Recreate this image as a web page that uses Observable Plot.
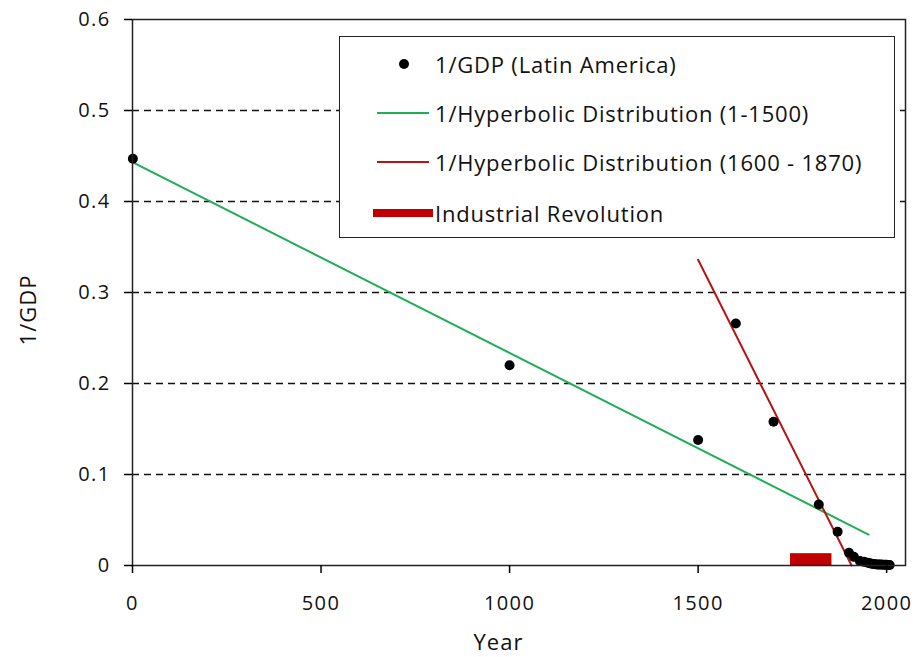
<!DOCTYPE html>
<html>
<head>
<meta charset="utf-8">
<script src="https://cdn.jsdelivr.net/npm/d3@7"></script>
<script src="https://cdn.jsdelivr.net/npm/@observablehq/plot@0.6"></script>
<style>
  html, body { margin: 0; padding: 0; background: #fff; }
  #wrap { position: relative; width: 916px; height: 657px; }
  #legend {
    position: absolute; left: 339px; top: 36px; width: 554px; height: 200px;
    border: 1.5px solid #222; background: #fff;
    font-family: "Open Sans", sans-serif; font-size: 22px; letter-spacing: 0.8px; color: #111;
  }
  .item { position: absolute; left: 0; width: 100%; height: 30px; }
  .item svg { position: absolute; left: 0; top: 0; }
  .item span { position: absolute; left: 95px; top: 0; line-height: 30px; white-space: nowrap; }
</style>
</head>
<body>
<div id="wrap"></div>
<script>
// ---- data ----
const years = [1, 1000, 1500, 1600, 1700, 1820, 1870, 1900, 1913, 1929, 1940, 1950, 1955, 1960, 1965, 1970, 1975, 1980, 1985, 1990, 1995, 2000, 2005, 2008];
const invGDP = [0.447, 0.220, 0.138, 0.266, 0.158, 0.067, 0.037, 0.014, 0.0095, 0.005, 0.004, 0.003, 0.0025, 0.002, 0.0017, 0.0014, 0.0012, 0.001, 0.001, 0.0009, 0.0008, 0.0007, 0.0006, 0.0005];

const greenYears = [1, 1952];
const greenValues = [0.443, 0.034];

const redYears = [1500, 1907];
const redValues = [0.336, 0.0];

const industrialStart = 1745;
const industrialEnd = 1855;
const industrialHeight = 0.013;

const yTicks = [0, 0.1, 0.2, 0.3, 0.4, 0.5, 0.6];
const gridTicks = [0.1, 0.2, 0.3, 0.4, 0.5];
const xTicks = [0, 500, 1000, 1500, 2000];

const xLabel = "Year";
const yLabel = "1/GDP";
const legendLabels = [
  "1/GDP (Latin America)",
  "1/Hyperbolic Distribution (1-1500)",
  "1/Hyperbolic Distribution (1600 - 1870)",
  "Industrial Revolution"
];

const GREEN = "#1fae55";
const RED = "#b81414";
const BAR = "#c00000";

// ---- build ----
const points = years.map((y, i) => ({year: y, v: invGDP[i]}));
const green = greenYears.map((y, i) => ({year: y, v: greenValues[i]}));
const red = redYears.map((y, i) => ({year: y, v: redValues[i]}));

const W = 916, H = 657, ML = 132, MR = 11, MT = 19, MB = 92;

const chart = Plot.plot({
  width: W,
  height: H,
  marginLeft: ML,
  marginRight: MR,
  marginTop: MT,
  marginBottom: MB,
  x: {domain: [0, 2050]},
  y: {domain: [0, 0.6]},
  marks: [
    Plot.ruleY(gridTicks, {stroke: "#111", strokeWidth: 1.3, strokeDasharray: "7,5"}),
    Plot.rectY([{x1: industrialStart, x2: industrialEnd, y: industrialHeight}], {x1: "x1", x2: "x2", y1: 0, y2: "y", fill: BAR}),
    Plot.line(green, {x: "year", y: "v", stroke: GREEN, strokeWidth: 2}),
    Plot.line(red, {x: "year", y: "v", stroke: RED, strokeWidth: 2}),
    Plot.dot(points, {x: "year", y: "v", r: 5, fill: "#000", stroke: "none"}),
    Plot.frame({stroke: "#222", strokeWidth: 1.5}),
    Plot.axisY(yTicks, {
      tickSize: 8, tickPadding: 14, strokeWidth: 1.5,
      tickFormat: d => d === 0 ? "0" : d.toFixed(1),
      fill: "#111", label: null
    }),
    Plot.axisX(xTicks, {
      tickSize: 8, tickPadding: 22, strokeWidth: 1.5,
      tickFormat: d => String(d),
      fill: "#111", label: null
    })
  ]
});

// force tick-label typography with inline styles
const svg = d3.select(chart);
svg.selectAll("text")
  .style("font-size", "20px")
  .style("font-family", "'Open Sans', sans-serif")
  .style("letter-spacing", "1.4px");

// axis titles
const cx = (ML + (W - MR)) / 2;
svg.append("text")
  .attr("x", cx - 20).attr("y", H - MB + 76)
  .attr("text-anchor", "middle").attr("dominant-baseline", "central")
  .attr("fill", "#111")
  .style("font-size", "22px").style("font-family", "'Open Sans', sans-serif").style("letter-spacing", "1px")
  .text(xLabel);
svg.append("text")
  .attr("transform", `translate(27,310) rotate(-90)`)
  .attr("text-anchor", "middle").attr("dominant-baseline", "central")
  .attr("fill", "#111")
  .style("font-size", "22px").style("font-family", "'Open Sans', sans-serif").style("letter-spacing", "1px")
  .text(yLabel);

const wrap = document.getElementById("wrap");
wrap.appendChild(chart);

// ---- legend ----
const legend = document.createElement("div");
legend.id = "legend";
const rows = [12, 61, 110, 161];
const swatches = [
  `<circle cx="64" cy="15" r="5" fill="#000"/>`,
  `<line x1="37" x2="89" y1="15" y2="15" stroke="${GREEN}" stroke-width="2"/>`,
  `<line x1="37" x2="89" y1="15" y2="15" stroke="${RED}" stroke-width="2"/>`,
  `<rect x="33" y="11" width="60" height="8" fill="${BAR}"/>`
];
legendLabels.forEach((lab, i) => {
  const it = document.createElement("div");
  it.className = "item";
  it.style.top = rows[i] + "px";
  it.innerHTML = `<svg width="100" height="30">${swatches[i]}</svg><span></span>`;
  it.querySelector("span").textContent = lab;
  legend.appendChild(it);
});
wrap.appendChild(legend);
</script>
</body>
</html>
